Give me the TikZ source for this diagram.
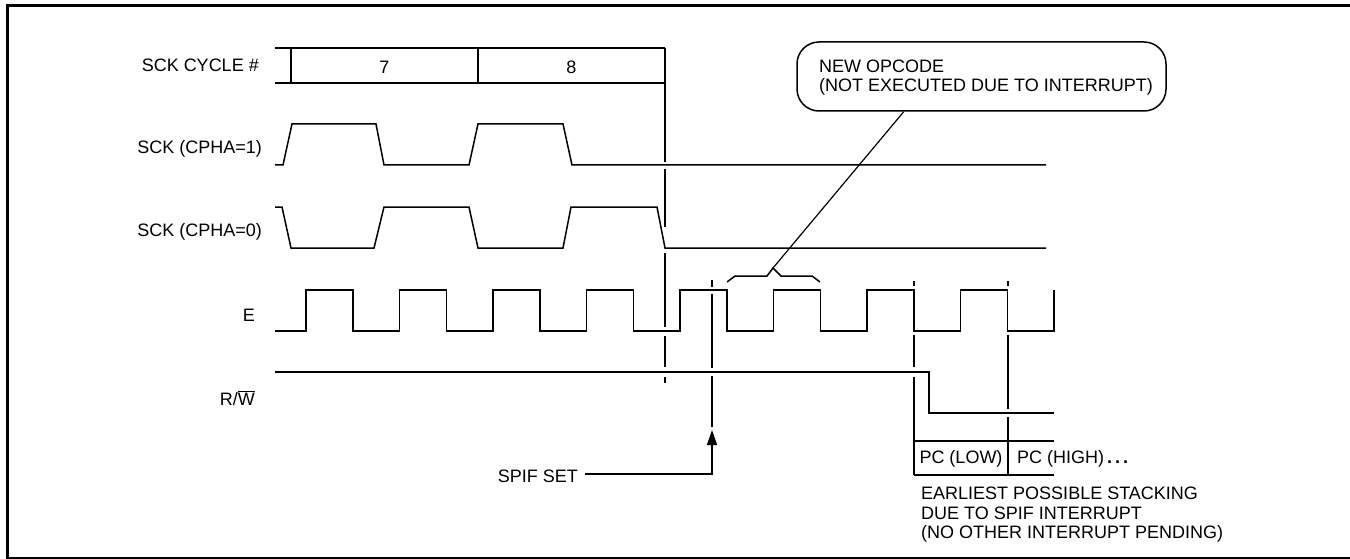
\documentclass[tikz,border=0pt]{standalone}
\usepackage{fontspec}
\setmainfont{Liberation Sans}
\usetikzlibrary{arrows.meta,calc}
\tikzset{
  sig/.style={line width=1.5pt, line join=miter},
  lbl/.style={inner sep=0pt, font=\fontsize{18}{19}\selectfont},
  frame/.style={line width=3pt},
}
\begin{document}
\begin{tikzpicture}[x=1pt,y=-1pt]
\useasboundingbox (0,0) rectangle (1350,559);
\draw[frame] (1362,6) -- (7,6) -- (7,558) -- (1362,558);

% labels
\node[lbl,anchor=east] (lcyc) at (259,65) {SCK CYCLE \#};
\node[lbl,anchor=east] (lc1) at (262,149) {SCK (CPHA=1)};
\node[lbl,anchor=east] (lc0) at (262,232) {SCK (CPHA=0)};
\node[lbl,anchor=east] (le) at (255,315) {E};
\node[lbl,anchor=east] (lrw) at (255,398) {R/\ensuremath{\overline{\mbox{W}}}};

% SCK cycle row
\draw[sig] (275,48) -- (665,48);
\draw[sig] (275,83) -- (665,83);
\draw[sig] (291,48) -- (291,83);
\draw[sig] (478,48) -- (478,83);
\node[lbl] (c7) at (384.5,67) {7};
\node[lbl] (c8) at (571.5,67) {8};

% vertical marker at end of cycle 8
\draw[sig] (665,48) -- (665,162);
\draw[sig] (665,169) -- (665,227);
\draw[sig] (665,253) -- (665,327);
\draw[sig] (665,336) -- (665,367);
\draw[sig] (665,377) -- (665,383);

% SCK CPHA=1
\draw[sig] (275,165) -- (283,165) -- (292,124) -- (376,124) -- (384,165) -- (469,165)
  -- (478,124) -- (563,124) -- (572,165) -- (1046,165);
% SCK CPHA=0
\draw[sig] (275,207) -- (282,207) -- (291,248) -- (374,248) -- (384,207) -- (469,207)
  -- (478,248) -- (563,248) -- (571,207) -- (657,207) -- (665,248) -- (1046,248);

% E clock
\draw[sig] (275,331) foreach \k in {0,...,7} {
   -- ({306+93.5*\k},331) -- ({306+93.5*\k},290) -- ({353+93.5*\k},290) -- ({353+93.5*\k},331) }
   -- (1054,331) -- (1054,290);

% R/W
\draw[sig] (275,372) -- (929,372) -- (929,413) -- (1054,413);

% SPIF marker line
\draw[sig] (712,280) -- (712,287);
\draw[sig] (712,294) -- (712,368);
\draw[sig] (712,376) -- (712,427);

% stacking markers
\draw[sig] (914,281) -- (914,286);
\draw[sig] (914,335) -- (914,367);
\draw[sig] (914,377) -- (914,475);
\draw[sig] (1008,281) -- (1008,286);
\draw[sig] (1008,335) -- (1008,409);
\draw[sig] (1008,417) -- (1008,475);
\draw[sig] (914,441) -- (1054,441);
\draw[sig] (914,475) -- (1054,475);
\node[lbl] (pcl) at (961,459) {PC (LOW)};
\node[lbl,anchor=west] (pch) at (1017,459) {PC (HIGH)\textbf{\,.\,.\,.}};

\node[lbl,anchor=north west,align=left,font=\fontsize{18}{19.5}\selectfont] (stack) at (921,487)
  {EARLIEST POSSIBLE STACKING\\DUE TO SPIF INTERRUPT\\(NO OTHER INTERRUPT PENDING)};

% SPIF SET
\node[lbl,anchor=east] (spif) at (578,476) {SPIF SET};
\coordinate (spiftip) at (712,430);
\draw[sig,-{Triangle[length=15pt,width=10pt]}] (585,474) -- (spiftip |- 585,474) -- (spiftip);

% brace over new opcode cycle
\coordinate (bpeak) at (773,268);
\draw[sig] (727,282) -- (735,276) -- (767,276) -- (bpeak) -- (781,276) -- (812,276) -- (820,282);

% bubble
\node[draw,line width=1.5pt,rounded corners=22pt,minimum width=369pt,minimum height=69pt,inner sep=0pt]
  (bubble) at (981.5,76.5) {};
\node[lbl,anchor=west,align=left] (bubtext) at (819,77.5)
  {NEW OPCODE\\(NOT EXECUTED DUE TO INTERRUPT)};
\coordinate (lead) at ($(bubble.south west)!0.29!(bubble.south east)$);
\draw[line width=1.2pt] (bpeak) -- (lead);
\end{tikzpicture}
\end{document}
